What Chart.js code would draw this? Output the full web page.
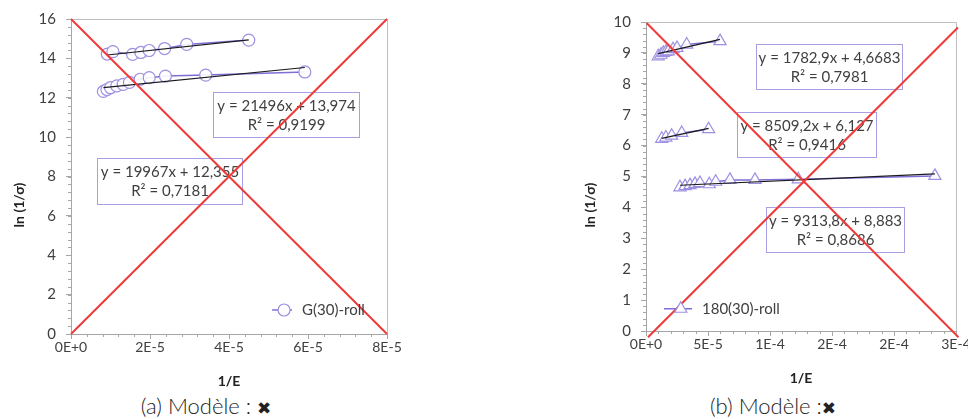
<!DOCTYPE html>
<html lang="fr">
<head>
<meta charset="UTF-8">
<title>ln (1/σ) en fonction de 1/E</title>
<script src="https://cdn.jsdelivr.net/npm/chart.js"></script>
<style>
  html, body { margin: 0; padding: 0; background: #fff; overflow: hidden; }
  body { width: 968px; height: 419px; position: relative; font-family: Lato, 'Open Sans', sans-serif; }
  canvas { position: absolute; top: 0; }
  #chartA { left: 0; }
  #chartB { left: 570px; }
  .caption {
    position: absolute; top: 392px; font-size: 22px; color: #222; font-weight: 300;
    white-space: nowrap; transform: translateX(-50%);
  }
  .caption b { font-family: 'DejaVu Sans', sans-serif; font-size: 17px; }
</style>
</head>
<body>
<canvas id="chartA" width="420" height="392"></canvas>
<canvas id="chartB" width="420" height="392"></canvas>
<div class="caption" style="left:206px">(a) Modèle : <b>✖</b></div>
<div class="caption" style="left:773px">(b) Modèle :<b>✖</b></div>
<script>
// ---- (a) G(30)-roll ----
const aUpperX = [0.92e-5, 1.06e-5, 1.56e-5, 1.77e-5, 1.98e-5, 2.37e-5, 2.93e-5, 4.50e-5];
const aUpperY = [14.22, 14.34, 14.20, 14.30, 14.40, 14.50, 14.71, 14.93];
const aLowerX = [0.82e-5, 0.91e-5, 1.00e-5, 1.16e-5, 1.32e-5, 1.48e-5, 1.75e-5, 1.98e-5, 2.39e-5, 3.41e-5, 5.92e-5];
const aLowerY = [12.32, 12.42, 12.51, 12.60, 12.68, 12.78, 12.94, 13.02, 13.10, 13.15, 13.31];
const aSlopes = [21496, 19967];
const aIntercepts = [13.974, 12.355];
const aEquations = [['y = 21496x + 13,974', 'R² = 0,9199'], ['y = 19967x + 12,355', 'R² = 0,7181']];
const aXTickLabels = ['0E+0', '2E-5', '4E-5', '6E-5', '8E-5'];

// ---- (b) 180(30)-roll ----
const bTopX = [0.99e-5, 1.21e-5, 1.40e-5, 1.61e-5, 1.80e-5, 2.18e-5, 2.50e-5, 3.28e-5, 5.97e-5];
const bTopY = [8.89, 8.94, 9.00, 9.03, 9.05, 9.12, 9.16, 9.27, 9.38];
const bMidX = [1.27e-5, 1.60e-5, 2.07e-5, 2.88e-5, 5.05e-5];
const bMidY = [6.22, 6.26, 6.32, 6.41, 6.53];
const bLowX = [2.74e-5, 3.15e-5, 3.55e-5, 3.95e-5, 4.35e-5, 5.10e-5, 5.62e-5, 6.77e-5, 8.79e-5, 12.28e-5, 23.30e-5];
const bLowY = [4.65, 4.69, 4.72, 4.76, 4.79, 4.75, 4.83, 4.89, 4.89, 4.91, 5.02];
const bSlopes = [9313.8, 8509.2, 1782.9];
const bIntercepts = [8.883, 6.127, 4.6683];
const bEquations = [['y = 1782,9x + 4,6683', 'R² = 0,7981'], ['y = 8509,2x + 6,127', 'R² = 0,9416'], ['y = 9313,8x + 8,883', 'R² = 0,8686']];
const bXTickLabels = ['0E+0', '5E-5', '1E-4', '2E-4', '2E-4', '3E-4'];

const MARK = '#9d90e2';
const LINE = '#7c6fd6';
const RED = '#f03a3a';
const TXT = '#404040';
const AXIS = '#a6a6a6';

function pts(xs, ys) { return xs.map((x, i) => ({ x: x, y: ys[i] })); }

function trend(xs, m, b) {
  const x0 = Math.min(...xs), x1 = Math.max(...xs);
  return [{ x: x0, y: m * x0 + b }, { x: x1, y: m * x1 + b }];
}

function series(data, style, radius) {
  return {
    data: data, order: 2, showLine: true, borderColor: LINE, borderWidth: 1.5,
    pointStyle: style, pointRadius: radius, pointBorderColor: MARK, pointBorderWidth: 1.2,
    pointBackgroundColor: 'rgba(255,255,255,0.9)'
  };
}
function trendSet(data) {
  return { data: data, order: 1, showLine: true, borderColor: '#1a1a1a', borderWidth: 1.2, pointRadius: 0 };
}
function redSet(data) {
  return { data: data, order: 0, showLine: true, borderColor: RED, borderWidth: 2, pointRadius: 0, clip: false };
}

// draws minor ticks, plot frame, equation boxes, legend and axis titles
const decor = {
  id: 'decor',
  beforeDatasetsDraw(chart, args, o) {
    const { ctx, chartArea: a, scales: { x, y } } = chart;
    ctx.save();
    ctx.strokeStyle = '#bfbfbf';
    ctx.lineWidth = 1;
    ctx.beginPath();
    ctx.moveTo(a.left, a.top + 0.5);
    ctx.lineTo(a.right + 0.5, a.top + 0.5);
    ctx.lineTo(a.right + 0.5, a.bottom);
    ctx.stroke();

    ctx.strokeStyle = AXIS;
    ctx.beginPath();
    for (let i = 0; i * o.yMinor <= y.max + 1e-9; i++) {
      const py = Math.round(y.getPixelForValue(i * o.yMinor)) + 0.5;
      ctx.moveTo(a.left - 3, py); ctx.lineTo(a.left, py);
    }
    for (let i = 0; i * o.xMinor <= x.max * (1 + 1e-9); i++) {
      const px = Math.round(x.getPixelForValue(i * o.xMinor)) + 0.5;
      ctx.moveTo(px, a.bottom); ctx.lineTo(px, a.bottom + 3);
    }
    ctx.stroke();

    ctx.font = '15px Lato, sans-serif';
    ctx.textAlign = 'center';
    ctx.textBaseline = 'middle';
    o.boxes.forEach(bx => {
      const left = Math.round(x.getPixelForValue(bx.x)) + 0.5;
      const top = Math.round(y.getPixelForValue(bx.y)) + 0.5;
      ctx.fillStyle = '#fff';
      ctx.fillRect(left, top, bx.w, bx.h);
      ctx.strokeStyle = '#a99fe4';
      ctx.strokeRect(left, top, bx.w, bx.h);
      ctx.fillStyle = TXT;
      ctx.fillText(bx.lines[0], left + bx.w / 2, top + 14);
      ctx.fillText(bx.lines[1], left + bx.w / 2, top + 33);
    });
    ctx.restore();
  },
  afterDraw(chart, args, o) {
    const { ctx, chartArea: a, scales: { x, y } } = chart;
    ctx.save();
    // legend
    const lg = o.legend;
    const lx = x.getPixelForValue(lg.x), ly = y.getPixelForValue(lg.y);
    ctx.strokeStyle = LINE; ctx.lineWidth = 1.5;
    ctx.beginPath(); ctx.moveTo(lx, ly); ctx.lineTo(lx + lg.len, ly); ctx.stroke();
    ctx.strokeStyle = MARK; ctx.fillStyle = '#fff'; ctx.lineWidth = 1.2;
    Chart.helpers.drawPoint(ctx, { pointStyle: lg.style, radius: lg.radius, borderWidth: 1.2 }, lx + lg.len * 0.6, ly);
    ctx.fillStyle = TXT;
    ctx.font = '15px Lato, sans-serif';
    ctx.textAlign = 'left'; ctx.textBaseline = 'middle';
    ctx.fillText(lg.label, lx + lg.len + 10, ly);

    // axis titles
    ctx.font = 'bold 14px Lato, sans-serif';
    ctx.fillStyle = '#222';
    ctx.textAlign = 'center';
    ctx.fillText('1/E', (a.left + a.right) / 2, o.xTitleY);
    ctx.translate(o.yTitleX, o.yTitleY);
    ctx.rotate(-Math.PI / 2);
    ctx.fillText('ln (1/σ)', 0, 0);
    ctx.restore();
  }
};

function makeChart(id, datasets, sc, plug) {
  new Chart(document.getElementById(id), {
    type: 'scatter',
    data: { datasets: datasets },
    plugins: [decor],
    options: {
      responsive: false,
      animation: false,
      layout: { padding: { top: sc.top, right: sc.right, left: 0, bottom: 0 } },
      plugins: { legend: { display: false }, tooltip: { enabled: false }, decor: plug },
      scales: {
        x: {
          type: 'linear', min: 0, max: sc.xMax,
          afterFit: s => { s.height = sc.xHeight; },
          border: { display: true, color: AXIS },
          grid: { drawOnChartArea: false, color: AXIS, tickLength: 5 },
          ticks: {
            stepSize: sc.xStep, autoSkip: false, maxRotation: 0, padding: 0,
            color: TXT, font: { family: 'Lato', size: 14 },
            callback: (v, i) => sc.xLabels[i]
          }
        },
        y: {
          min: 0, max: sc.yMax,
          afterFit: s => { s.width = sc.yWidth; },
          border: { display: true, color: AXIS },
          grid: { drawOnChartArea: false, color: AXIS, tickLength: 5 },
          ticks: { stepSize: sc.yStep, padding: 10, color: TXT, font: { family: 'Lato', size: 15 } }
        }
      }
    }
  });
}

makeChart('chartA', [
  redSet([{ x: 0, y: 16 }, { x: 8e-5, y: 0 }]),
  redSet([{ x: 0, y: 0 }, { x: 8e-5, y: 16 }]),
  trendSet(trend(aUpperX, aSlopes[0], aIntercepts[0])),
  trendSet(trend(aLowerX, aSlopes[1], aIntercepts[1])),
  series(pts(aUpperX, aUpperY), 'circle', 6),
  series(pts(aLowerX, aLowerY), 'circle', 6)
], {
  top: 19, right: 33, yWidth: 71, xHeight: 58,
  xMax: 8e-5, xStep: 2e-5, xLabels: aXTickLabels, yMax: 16, yStep: 2
}, {
  xMinor: 0.4e-5, yMinor: 0.4,
  boxes: [
    { x: 3.6e-5, y: 12.28, w: 146, h: 45, lines: aEquations[0] },
    { x: 0.65e-5, y: 8.95, w: 145, h: 46, lines: aEquations[1] }
  ],
  legend: { x: 5.09e-5, y: 1.22, len: 20, style: 'circle', radius: 6, label: 'G(30)-roll' },
  xTitleY: 381, yTitleX: 19, yTitleY: 205
});

makeChart('chartB', [
  redSet([{ x: 0.05e-5, y: 9.97 }, { x: 25.2e-5, y: -0.2 }]),
  redSet([{ x: 0.16e-5, y: -0.2 }, { x: 25.16e-5, y: 9.82 }]),
  trendSet(trend(bTopX, bSlopes[0], bIntercepts[0])),
  trendSet(trend(bMidX, bSlopes[1], bIntercepts[1])),
  trendSet(trend(bLowX, bSlopes[2], bIntercepts[2])),
  series(pts(bTopX, bTopY), 'triangle', 7),
  series(pts(bMidX, bMidY), 'triangle', 7),
  series(pts(bLowX, bLowY), 'triangle', 7)
], {
  top: 22, right: 34, yWidth: 76, xHeight: 61,
  xMax: 2.5e-4, xStep: 5e-5, xLabels: bXTickLabels, yMax: 10, yStep: 1
}, {
  xMinor: 1e-5, yMinor: 0.2,
  boxes: [
    { x: 8.87e-5, y: 9.30, w: 146, h: 45, lines: bEquations[0] },
    { x: 7.34e-5, y: 7.09, w: 139, h: 45, lines: bEquations[1] },
    { x: 9.65e-5, y: 4.02, w: 138, h: 45, lines: bEquations[2] }
  ],
  legend: { x: 1.45e-5, y: 0.72, len: 28, style: 'triangle', radius: 7, label: '180(30)-roll' },
  xTitleY: 378, yTitleX: 20, yTitleY: 205
});
</script>
</body>
</html>
